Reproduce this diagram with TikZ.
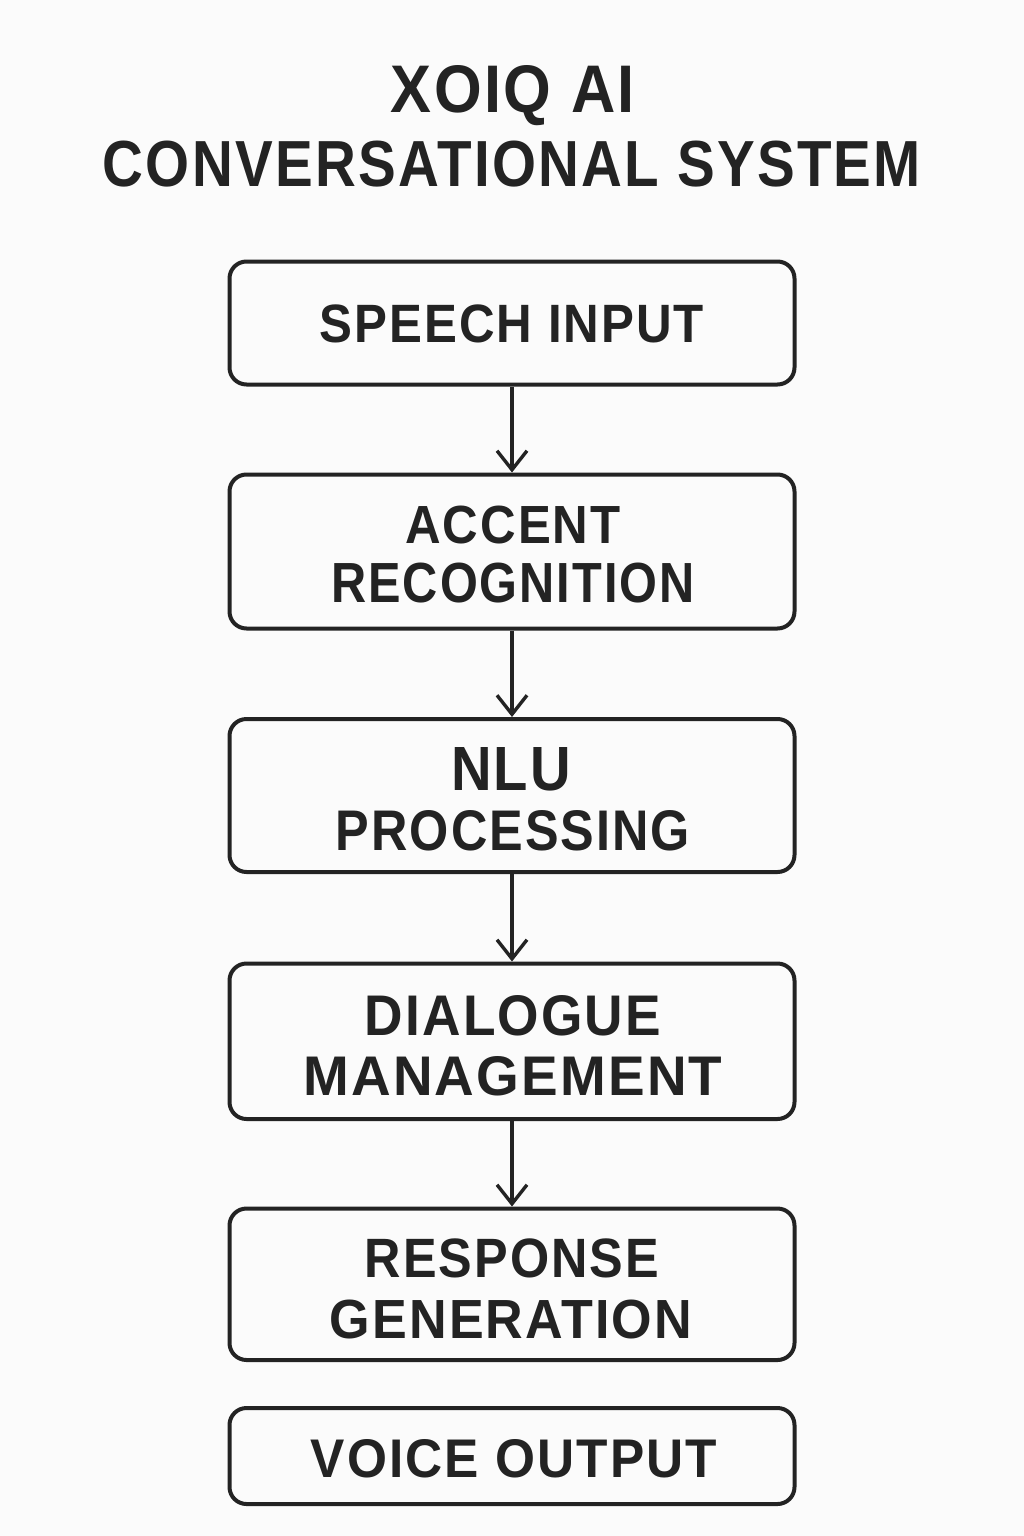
\documentclass[tikz,border=0pt]{standalone}
\usepackage{fontspec}
\setmainfont{Liberation Sans}[LetterSpace=4]
\usepackage{graphicx}
\usetikzlibrary{arrows.meta}
\definecolor{ink}{HTML}{232323}
\definecolor{paper}{HTML}{FBFBFB}
\newcommand\fitline[3]{\resizebox{#1pt}{#2pt}{\bfseries #3}}
\begin{document}
\begin{tikzpicture}[x=1pt,y=-1pt,
  box/.style={draw=ink,line width=4pt,rounded corners=17pt,minimum width=565pt,inner sep=0pt},
  txt/.style={text=ink,inner sep=0pt,anchor=base},
  arr/.style={draw=ink,line width=3.4pt,-{Straight Barb[length=19pt,width=30pt,line width=3.4pt]}}]
\fill[paper] (0,0) rectangle (1024,1536);
\useasboundingbox (0,0) rectangle (1024,1536);

% title
\node[txt] (title1) at (513,112.3) {\fitline{244}{47}{XOIQ AI}};
\node[txt] (title2) at (512,186.7) {\fitline{818}{45.5}{CONVERSATIONAL SYSTEM}};

% boxes
\node[box,minimum height=123pt]   (b1) at (512,323) {};
\node[box,minimum height=154pt]   (b2) at (512,551.5) {};
\node[box,minimum height=153pt]   (b3) at (512,795.5) {};
\node[box,minimum height=155.5pt] (b4) at (512,1041.25) {};
\node[box,minimum height=151.5pt] (b5) at (512,1284.25) {};
\node[box,minimum height=96pt]    (b6) at (512,1456) {};

% labels
\node[txt] (l1)  at (512,342.7)   {\fitline{384}{37.7}{SPEECH INPUT}};
\node[txt] (l2a) at (513,543)     {\fitline{215}{37.5}{ACCENT}};
\node[txt] (l2b) at (513,602.7)   {\fitline{363}{39.5}{RECOGNITION}};
\node[txt] (l3a) at (511,790)     {\fitline{120}{43}{NLU}};
\node[txt] (l3b) at (513,850)     {\fitline{354}{40}{PROCESSING}};
\node[txt] (l4a) at (513,1035)    {\fitline{296}{40}{DIALOGUE}};
\node[txt] (l4b) at (513,1095.7)  {\fitline{419}{39}{MANAGEMENT}};
\node[txt] (l5a) at (512,1277.7)  {\fitline{294}{38.7}{RESPONSE}};
\node[txt] (l5b) at (511,1338)    {\fitline{362}{38.5}{GENERATION}};
\node[txt] (l6)  at (514,1477)    {\fitline{406}{38}{VOICE OUTPUT}};

% connectors
\draw[arr] (b1.south) -- (b2.north);
\draw[arr] (b2.south) -- (b3.north);
\draw[arr] (b3.south) -- (b4.north);
\draw[arr] (b4.south) -- (b5.north);
\end{tikzpicture}
\end{document}
